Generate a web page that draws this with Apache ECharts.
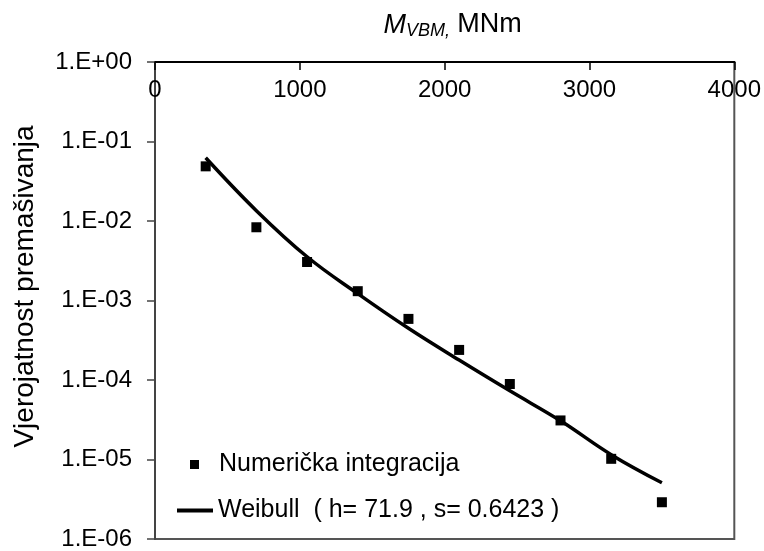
<!DOCTYPE html>
<html>
<head>
<meta charset="utf-8">
<script src="https://cdn.jsdelivr.net/npm/echarts@6/dist/echarts.min.js"></script>
<style>
  html, body { margin: 0; padding: 0; background: #fff; }
  #chart { width: 764px; height: 551px; }
</style>
</head>
<body>
<div id="chart"></div>
<script>
// moment values (MNm) and exceedance probabilities
const momentPoints = [350, 700, 1050, 1400, 1750, 2100, 2450, 2800, 3150, 3500];
const probNumeric = [0.0487, 0.00834, 0.00305, 0.00131, 0.000587, 0.000239, 0.000089, 0.000031, 0.0000102, 0.0000029];

const momentCurve = [350, 700, 1050, 1400, 1750, 2100, 2450, 2800, 3150, 3500];
const probWeibull = [0.0625, 0.0135, 0.00355, 0.00122, 0.000447, 0.000178, 0.000073, 0.0000307, 0.0000115, 0.0000051];

const xTicks = [0, 1000, 2000, 3000, 4000];
const yTickLabels = ["1.E-06", "1.E-05", "1.E-04", "1.E-03", "1.E-02", "1.E-01", "1.E+00"];

const seriesNames = ["Numerička integracija", "Weibull  ( h= 71.9 , s= 0.6423 )"];

const font = "'Liberation Sans', Arial, sans-serif";
const legendText = { fontSize: 25, color: "#000", fontFamily: font };

const chart = echarts.init(document.getElementById("chart"));

const option = {
  animation: false,
  grid: {
    left: 155,
    right: 28,
    top: 62,
    bottom: 9,
    show: true,
    borderColor: "#555",
    borderWidth: 2,
  },
  legend: [
    {
      orient: "vertical",
      left: 190,
      top: 452,
      padding: 0,
      itemWidth: 9,
      itemHeight: 9,
      data: [{ name: seriesNames[0], icon: "rect" }],
      textStyle: Object.assign({ padding: [0, 0, 0, 15] }, legendText),
    },
    {
      orient: "vertical",
      left: 177,
      top: 498,
      padding: 0,
      itemWidth: 36,
      itemHeight: 4,
      data: [{ name: seriesNames[1], icon: "rect" }],
      textStyle: legendText,
    },
  ],
  xAxis: {
    type: "value",
    position: "top",
    min: xTicks[0],
    max: xTicks[xTicks.length - 1],
    interval: 1000,
    name: "{i|M}{s|VBM,} {n|MNm}",
    nameLocation: "middle",
    nameGap: 22,
    nameTextStyle: {
      padding: [0, 0, 0, 16],
      rich: {
        i: { fontSize: 27, fontStyle: "italic", fontFamily: font, color: "#000" },
        s: { fontSize: 18, fontStyle: "italic", fontFamily: font, color: "#000", padding: [12, 4, 0, 0] },
        n: { fontSize: 27, fontFamily: font, color: "#000" },
      },
    },
    axisLine: { show: true, lineStyle: { color: "#000", width: 2 } },
    axisTick: { show: true, inside: true, length: 8, lineStyle: { color: "#000", width: 1.5 } },
    axisLabel: {
      inside: true,
      margin: 16,
      fontSize: 24,
      color: "#000",
      fontFamily: font,
      formatter: (v) => String(v),
    },
    splitLine: { show: false },
  },
  yAxis: {
    type: "log",
    logBase: 10,
    min: 1e-6,
    max: 1,
    interval: 1,
    name: "Vjerojatnost premašivanja",
    nameLocation: "middle",
    nameGap: 116,
    nameTextStyle: { fontSize: 28, color: "#000", fontFamily: font, padding: [0, 0, 0, 28] },
    axisLine: { show: true, lineStyle: { color: "#444", width: 2 } },
    axisTick: { show: true, length: 8, lineStyle: { color: "#444", width: 1.5 } },
    axisLabel: {
      margin: 23,
      fontSize: 24,
      color: "#000",
      fontFamily: font,
      formatter: (v) => {
        const e = Math.round(Math.log10(v));
        return yTickLabels[e + 6];
      },
    },
    splitLine: { show: false },
  },
  series: [
    {
      name: seriesNames[0],
      type: "scatter",
      symbol: "rect",
      symbolSize: 10,
      itemStyle: { color: "#000", opacity: 1 },
      data: momentPoints.map((x, i) => [x, probNumeric[i]]),
      z: 3,
    },
    {
      name: seriesNames[1],
      type: "line",
      smooth: 0.4,
      symbol: "none",
      lineStyle: { color: "#000", width: 3.5 },
      itemStyle: { color: "#000" },
      data: momentCurve.map((x, i) => [x, probWeibull[i]]),
      z: 2,
    },
  ],
};

chart.setOption(option);
</script>
</body>
</html>
